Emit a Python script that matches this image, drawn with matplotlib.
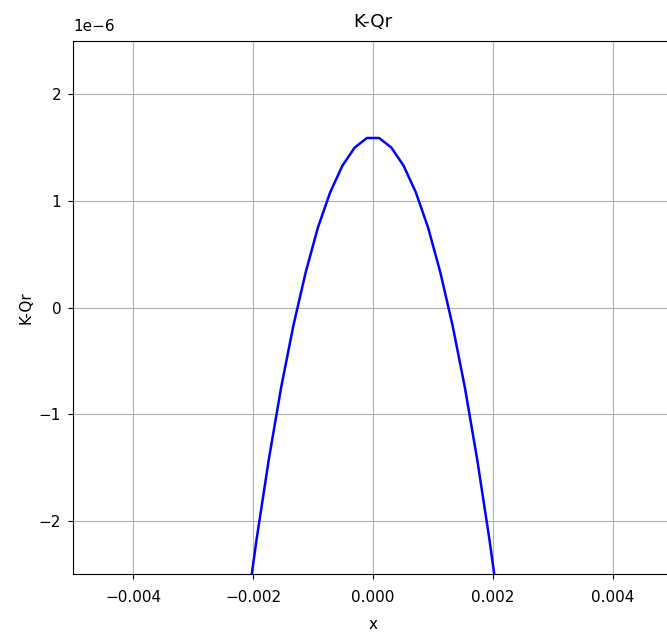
import numpy as np
import matplotlib
matplotlib.use("Agg")
import matplotlib.pyplot as plt

# sampled points of the curve (x in metres, y in units of 1e-6)
x_vals = [-0.002143, -0.001939, -0.001735, -0.001531, -0.001327, -0.001122,
          -0.000918, -0.000714, -0.000510, -0.000306, -0.000102,
          0.000102, 0.000306, 0.000510, 0.000714, 0.000918,
          0.001122, 0.001327, 0.001531, 0.001735, 0.001939, 0.002143]
y_vals = [-3.00, -2.17, -1.42, -0.75, -0.17, 0.33,
          0.75, 1.08, 1.33, 1.50, 1.59,
          1.59, 1.50, 1.33, 1.08, 0.75,
          0.33, -0.17, -0.75, -1.42, -2.17, -3.00]

x = np.array(x_vals)
y = np.array(y_vals) * 1e-6

plt.rcParams['font.size'] = 11
fig = plt.figure(figsize=(6.67, 6.34), dpi=100)
# axes runs past the right edge (the reference is cropped there)
ax = fig.add_axes([73 / 667, 60 / 634, 600 / 667, 533 / 634])
ax.plot(x, y, color='blue', linewidth=1.8)
ax.set_xlim(-0.005, 0.005)
ax.set_ylim(-2.5e-6, 2.5e-6)
ax.set_xticks([-0.004, -0.002, 0.0, 0.002, 0.004])
ax.tick_params(axis='x', pad=8)
ax.tick_params(axis='y', pad=5)
ax.yaxis.OFFSETTEXTPAD = 7
ax.set_title("K-Qr", pad=10)
ax.set_xlabel("x", labelpad=9)
ax.set_ylabel("K-Qr")
ax.grid(True)

fig.savefig("out.png", dpi=100)
